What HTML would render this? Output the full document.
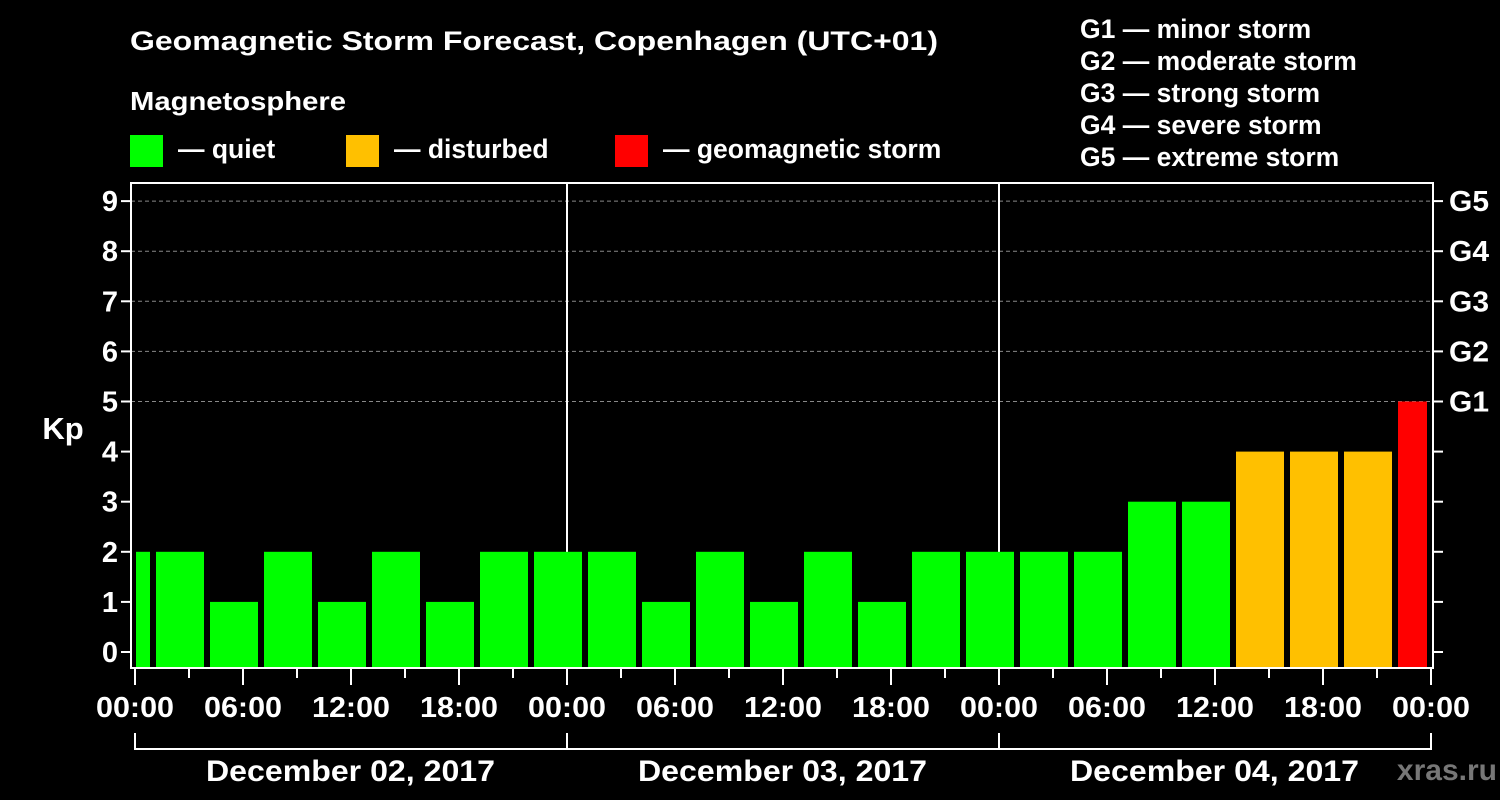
<!DOCTYPE html>
<html><head><meta charset="utf-8"><style>
html,body{margin:0;padding:0;background:#000;}
svg{display:block;font-family:"Liberation Sans",Arial,sans-serif;font-weight:bold;}
</style></head><body>
<svg id="chart" width="1500" height="800" viewBox="0 0 1500 800">
<rect x="0" y="0" width="1500" height="800" fill="#000"/>
<text x="130" y="50" font-size="27" fill="#fff" textLength="808" lengthAdjust="spacingAndGlyphs">Geomagnetic Storm Forecast, Copenhagen (UTC+01)</text>
<text x="130" y="110" font-size="26" fill="#fff" textLength="216" lengthAdjust="spacingAndGlyphs">Magnetosphere</text>
<g><rect x="130" y="135" width="33" height="32" fill="#00ff00"/><text x="178" y="158" font-size="26.5" fill="#fff">— quiet</text></g>
<g><rect x="346" y="135" width="33" height="32" fill="#ffc000"/><text x="394" y="158" font-size="26.5" fill="#fff">— disturbed</text></g>
<g><rect x="615" y="135" width="33" height="32" fill="#ff0000"/><text x="663" y="158" font-size="26.5" fill="#fff">— geomagnetic storm</text></g>
<g font-size="26.5" fill="#fff">
<text x="1080" y="38">G1 — minor storm</text>
<text x="1080" y="70">G2 — moderate storm</text>
<text x="1080" y="102">G3 — strong storm</text>
<text x="1080" y="134">G4 — severe storm</text>
<text x="1080" y="166">G5 — extreme storm</text>
</g>
<text x="63" y="439" font-size="31" fill="#fff" text-anchor="middle">Kp</text>
<text x="1497" y="780" font-size="30" fill="#777" text-anchor="end">xras.ru</text>
<g id="grid"></g><g id="bars"></g><g id="axes"></g>
</svg>
<script>
const kpValues = [2,2,1,2,1,2,1,2,2,2,1,2,1,2,1,2,2,2,2,3,3,4,4,4,5];
const firstBarStartHour = -2;
const barHours = 3;
const yTicks = [0,1,2,3,4,5,6,7,8,9];
const gLabels = ["G1","G2","G3","G4","G5"];
const gLevels = [5,6,7,8,9];
const xTickLabels = ["00:00","06:00","12:00","18:00","00:00","06:00","12:00","18:00","00:00","06:00","12:00","18:00","00:00"];
const dayLabels = ["December 02, 2017","December 03, 2017","December 04, 2017"];

const NS="http://www.w3.org/2000/svg";
const X0=135, HPX=18, TOTALH=72, Y0=652, UPX=50.1;
const L=131, R=1433, T=183, B=668;
const xs=h=>X0+h*HPX, ys=v=>Y0-v*UPX;
function mk(tag,attrs,parent,txt){const e=document.createElementNS(NS,tag);for(const k in attrs)e.setAttribute(k,attrs[k]);if(txt!==undefined)e.textContent=txt;parent.appendChild(e);return e;}
const grid=document.getElementById('grid'),bars=document.getElementById('bars'),axes=document.getElementById('axes');
gLevels.forEach((v,i)=>{
  const l=mk('line',{x1:L,x2:R,y1:ys(v),y2:ys(v),stroke:'#888','stroke-width':1,'stroke-dasharray':'4,3'},grid);
  
  
});
[1,2].forEach(d=>{
  const l=mk('line',{x1:xs(d*24),x2:xs(d*24),y1:T,y2:B,stroke:'#fff','stroke-width':2},grid);
  
  
});
kpValues.forEach((v,i)=>{
  let s=firstBarStartHour+i*barHours, e=s+barHours;
  let x1=xs(Math.max(s,0))+(s<0?1:3), x2=xs(Math.min(e,TOTALH))-(e>TOTALH?4:3);
  const col=v>=5?'#ff0000':(v>=4?'#ffc000':'#00ff00');
  const r=mk('rect',{x:x1,y:ys(v),width:x2-x1,height:B-1-ys(v),fill:col},bars);
  
  
});
const fr=mk('rect',{x:L,y:T,width:R-L,height:B-T,fill:'none',stroke:'#fff','stroke-width':2},axes);


yTicks.forEach(v=>{
  mk('line',{x1:L-10,x2:L,y1:ys(v),y2:ys(v),stroke:'#fff','stroke-width':2},axes);
  mk('line',{x1:R,x2:R+10,y1:ys(v),y2:ys(v),stroke:'#fff','stroke-width':2},axes);
  const t=mk('text',{x:L-13,y:ys(v)+10,'font-size':29,fill:'#fff','text-anchor':'end'},axes,String(v));
  
  
});
gLabels.forEach((g,i)=>{
  const t=mk('text',{x:R+16,y:ys(gLevels[i])+10,'font-size':29,fill:'#fff',textLength:40,lengthAdjust:'spacingAndGlyphs'},axes,g);
  
  
});
for(let h=0;h<=TOTALH;h+=3){
  const major=h%6===0;
  mk('line',{x1:xs(h),x2:xs(h),y1:B,y2:B+(major?17:10),stroke:'#fff','stroke-width':2},axes);
}
xTickLabels.forEach((lab,i)=>{
  const t=mk('text',{x:xs(i*6),y:717,'font-size':29,fill:'#fff','text-anchor':'middle',textLength:78,lengthAdjust:'spacingAndGlyphs'},axes,lab);
  
  
});
mk('line',{x1:xs(0),x2:xs(TOTALH),y1:749,y2:749,stroke:'#fff','stroke-width':2},axes);
for(let d=0;d<=3;d++)mk('line',{x1:xs(d*24),x2:xs(d*24),y1:733,y2:750,stroke:'#fff','stroke-width':2},axes);
dayLabels.forEach((lab,i)=>{
  const t=mk('text',{x:xs(i*24+12)-0.5,y:781,'font-size':30,fill:'#fff','text-anchor':'middle',textLength:289,lengthAdjust:'spacingAndGlyphs'},axes,lab);
  
  
});
</script>
</body></html>
